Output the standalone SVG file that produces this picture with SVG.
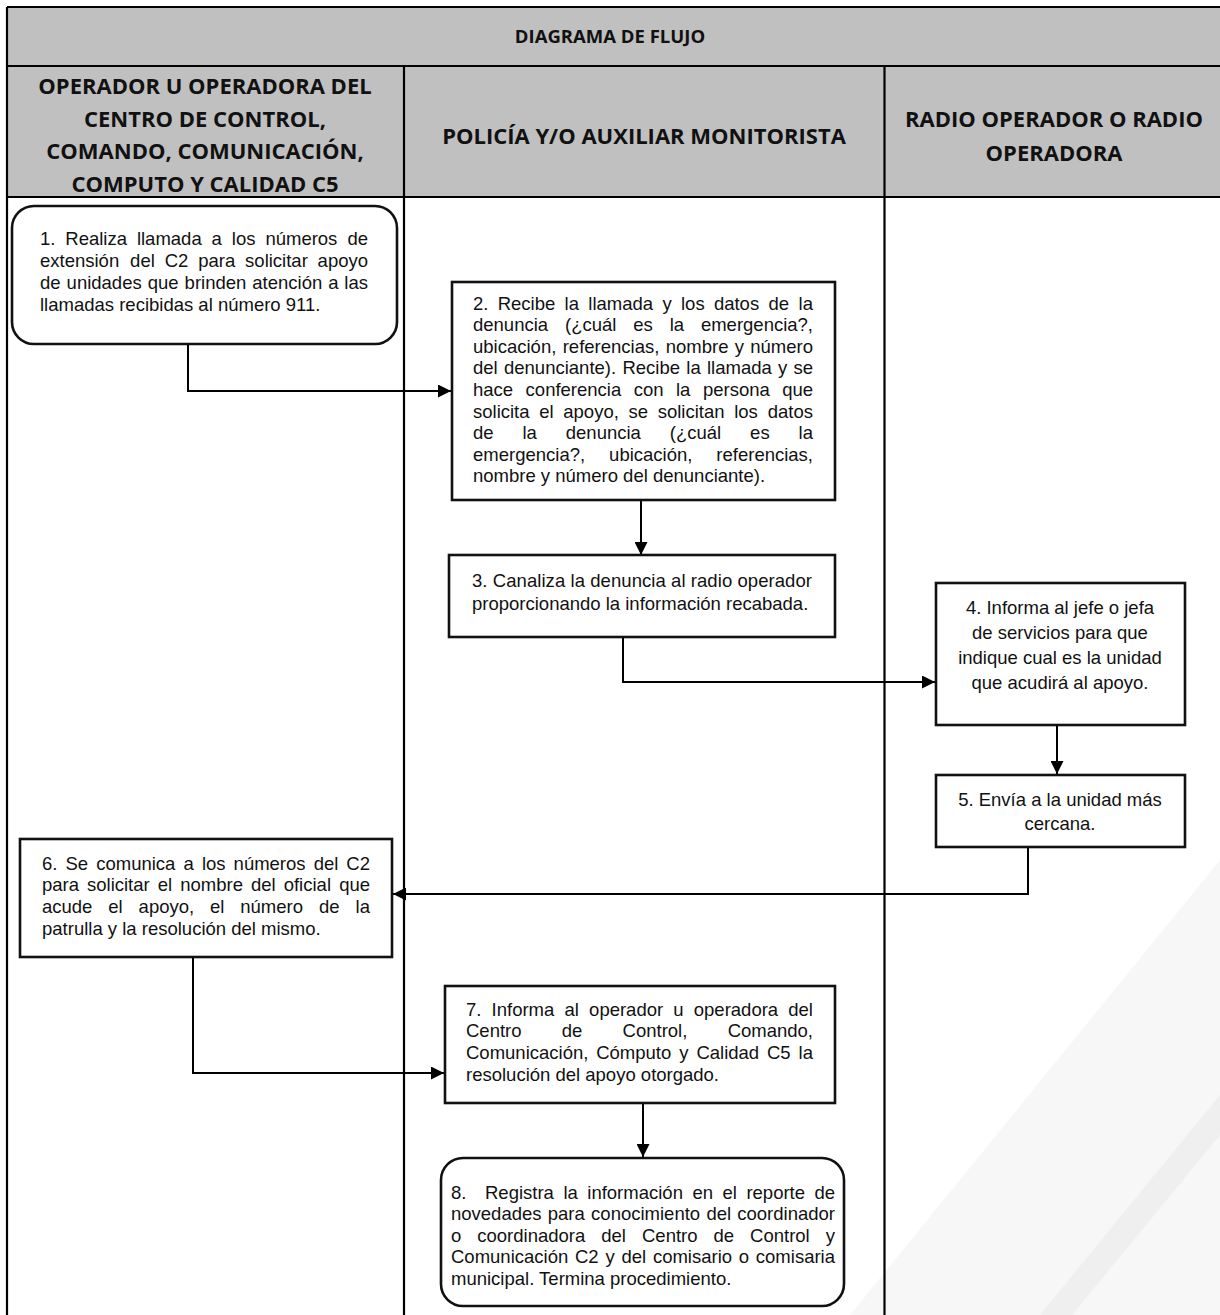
<svg xmlns="http://www.w3.org/2000/svg" width="1220" height="1315" viewBox="0 0 1220 1315">
<defs>
<style>
.t{font-family:"Liberation Sans",Arial,sans-serif;font-size:18.5px;fill:#111}
.c{text-anchor:middle}
.e{text-anchor:end}
.h{font-family:"Open Sans","Liberation Sans",sans-serif;font-weight:700;font-size:22px;text-anchor:middle;fill:#111}
.box{fill:#fff;stroke:#111;stroke-width:2.6}
.conn{fill:none;stroke:#000;stroke-width:2}
.grid{stroke:#000;stroke-width:2.2;fill:none}
</style>
<marker id="arr" viewBox="0 0 10 10" refX="10" refY="5" markerWidth="14" markerHeight="13" markerUnits="userSpaceOnUse" orient="auto">
<path d="M0,0 L10,5 L0,10 z" fill="#000"/>
</marker>
</defs>
<rect width="1220" height="1315" fill="#fff"/>
<g id="watermark">
<polygon points="1220,860 1220,1315 850,1315" fill="#f7f7f8"/>
<polygon points="1220,1095 1220,1135 1072,1315 1040,1315" fill="#efefef"/>
</g>
<g id="table">
<rect x="7" y="7" width="1220" height="190" fill="#c0c0c0"/>
<path class="grid" d="M7,7 H1220 M7,66 H1220 M7,197 H1220 M7,7 V1315 M404,66 V1315 M884.5,66 V1315"/>
<text class="h" x="610" y="43" style="font-size:18.5px">DIAGRAMA DE FLUJO</text>
<text class="h" x="205" y="94">OPERADOR U OPERADORA DEL</text>
<text class="h" x="205" y="126.5">CENTRO DE CONTROL,</text>
<text class="h" x="205" y="159">COMANDO, COMUNICACIÓN,</text>
<text class="h" x="205" y="191.5">COMPUTO Y CALIDAD C5</text>
<text class="h" x="644" y="144">POLICÍA Y/O AUXILIAR MONITORISTA</text>
<text class="h" x="1054" y="127">RADIO OPERADOR O RADIO</text>
<text class="h" x="1054" y="161">OPERADORA</text>
</g>
<g id="connectors">
<path class="conn" d="M188,344 V391 H451" marker-end="url(#arr)"/>
<path class="conn" d="M641,500 V555" marker-end="url(#arr)"/>
<path class="conn" d="M623,637 V682 H935" marker-end="url(#arr)"/>
<path class="conn" d="M1057,725 V774" marker-end="url(#arr)"/>
<path class="conn" d="M1028,847 V894 H393" marker-end="url(#arr)"/>
<path class="conn" d="M193,957 V1073 H444" marker-end="url(#arr)"/>
<path class="conn" d="M643,1103 V1157" marker-end="url(#arr)"/>
</g>
<g id="n1">
<rect class="box" x="12" y="206" width="385" height="138" rx="22"/>
<text class="t" y="245"><tspan x="40">1.</tspan><tspan x="65.3">Realiza</tspan><tspan x="136.9">llamada</tspan><tspan x="211.6">a</tspan><tspan x="231.8">los</tspan><tspan x="265.4">números</tspan></text>
<text class="t e" x="368" y="245">de</text>
<text class="t" y="267"><tspan x="40">extensión</tspan><tspan x="130.1">del</tspan><tspan x="164.7">C2</tspan><tspan x="198.2">para</tspan><tspan x="245.1">solicitar</tspan></text>
<text class="t e" x="368" y="267">apoyo</text>
<text class="t" y="289"><tspan x="40">de</tspan><tspan x="66.6">unidades</tspan><tspan x="147.7">que</tspan><tspan x="184.6">brinden</tspan><tspan x="252.3">atención</tspan><tspan x="328.2">a</tspan></text>
<text class="t e" x="368" y="289">las</text>
<text class="t" x="40" y="311">llamadas recibidas al número 911.</text>
</g>
<g id="n2">
<rect class="box" x="452" y="282" width="383" height="218"/>
<text class="t" y="309.5"><tspan x="473">2.</tspan><tspan x="497.7">Recibe</tspan><tspan x="564.6">la</tspan><tspan x="588.3">llamada</tspan><tspan x="662.4">y</tspan><tspan x="681">los</tspan><tspan x="713.9">datos</tspan><tspan x="768.5">de</tspan></text>
<text class="t e" x="813" y="309.5">la</text>
<text class="t" y="331.1"><tspan x="473">denuncia</tspan><tspan x="565">(¿cuál</tspan><tspan x="633.3">es</tspan><tspan x="669.7">la</tspan></text>
<text class="t e" x="813" y="331.1">emergencia?,</text>
<text class="t" y="352.7"><tspan x="473">ubicación,</tspan><tspan x="562.7">referencias,</tspan><tspan x="665.7">nombre</tspan><tspan x="734.7">y</tspan></text>
<text class="t e" x="813" y="352.7">número</text>
<text class="t" y="374.3"><tspan x="473">del</tspan><tspan x="504">denunciante).</tspan><tspan x="622.4">Recibe</tspan><tspan x="686.3">la</tspan><tspan x="707">llamada</tspan><tspan x="778.1">y</tspan></text>
<text class="t e" x="813" y="374.3">se</text>
<text class="t" y="395.9"><tspan x="473">hace</tspan><tspan x="525.6">conferencia</tspan><tspan x="633.7">con</tspan><tspan x="676">la</tspan><tspan x="702.9">persona</tspan></text>
<text class="t e" x="813" y="395.9">que</text>
<text class="t" y="417.5"><tspan x="473">solicita</tspan><tspan x="539.2">el</tspan><tspan x="563.3">apoyo,</tspan><tspan x="628.5">se</tspan><tspan x="657.7">solicitan</tspan><tspan x="734.2">los</tspan></text>
<text class="t e" x="813" y="417.5">datos</text>
<text class="t" y="439.1"><tspan x="473">de</tspan><tspan x="522.5">la</tspan><tspan x="565.8">denuncia</tspan><tspan x="669.8">(¿cuál</tspan><tspan x="750.1">es</tspan></text>
<text class="t e" x="813" y="439.1">la</text>
<text class="t" y="460.7"><tspan x="473">emergencia?,</tspan><tspan x="609.1">ubicación,</tspan></text>
<text class="t e" x="813" y="460.7">referencias,</text>
<text class="t" x="473" y="482.3">nombre y número del denunciante).</text>
</g>
<g id="n3">
<rect class="box" x="449" y="555" width="386" height="82"/>
<text class="t" x="472" y="586.5" textLength="340" lengthAdjust="spacing">3. Canaliza la denuncia al radio operador</text>
<text class="t" x="472" y="609.5">proporcionando la información recabada.</text>
</g>
<g id="n4">
<rect class="box" x="936" y="583" width="249" height="142"/>
<text class="t c" x="1060" y="613.5">4. Informa al jefe o jefa</text>
<text class="t c" x="1060" y="638.5">de servicios para que</text>
<text class="t c" x="1060" y="663.5">indique cual es la unidad</text>
<text class="t c" x="1060" y="688.5">que acudirá al apoyo.</text>
</g>
<g id="n5">
<rect class="box" x="936" y="775" width="249" height="72"/>
<text class="t c" x="1060" y="805.5">5. Envía a la unidad más</text>
<text class="t c" x="1060" y="829.5">cercana.</text>
</g>
<g id="n6">
<rect class="box" x="20" y="839" width="372" height="118"/>
<text class="t" y="869.5"><tspan x="42">6.</tspan><tspan x="65.5">Se</tspan><tspan x="96.2">comunica</tspan><tspan x="183.5">a</tspan><tspan x="201.9">los</tspan><tspan x="233.6">números</tspan><tspan x="313.7">del</tspan></text>
<text class="t e" x="370" y="869.5">C2</text>
<text class="t" y="891.2"><tspan x="42">para</tspan><tspan x="87">solicitar</tspan><tspan x="157.8">el</tspan><tspan x="180.2">nombre</tspan><tspan x="251">del</tspan><tspan x="283.7">oficial</tspan></text>
<text class="t e" x="370" y="891.2">que</text>
<text class="t" y="912.9"><tspan x="42">acude</tspan><tspan x="108.3">el</tspan><tspan x="138.6">apoyo,</tspan><tspan x="210">el</tspan><tspan x="240.3">número</tspan><tspan x="318.9">de</tspan></text>
<text class="t e" x="370" y="912.9">la</text>
<text class="t" x="42" y="934.6">patrulla y la resolución del mismo.</text>
</g>
<g id="n7">
<rect class="box" x="445" y="986" width="390" height="117"/>
<text class="t" y="1015.5"><tspan x="466">7.</tspan><tspan x="491.6">Informa</tspan><tspan x="564.5">al</tspan><tspan x="589.1">operador</tspan><tspan x="673.3">u</tspan><tspan x="693.8">operadora</tspan></text>
<text class="t e" x="813" y="1015.5">del</text>
<text class="t" y="1037.2"><tspan x="466">Centro</tspan><tspan x="561.8">de</tspan><tspan x="622.6">Control,</tspan></text>
<text class="t e" x="813" y="1037.2">Comando,</text>
<text class="t" y="1058.9"><tspan x="466">Comunicación,</tspan><tspan x="596.2">Cómputo</tspan><tspan x="679.2">y</tspan><tspan x="696.4">Calidad</tspan><tspan x="767">C5</tspan></text>
<text class="t e" x="813" y="1058.9">la</text>
<text class="t" x="466" y="1080.6">resolución del apoyo otorgado.</text>
</g>
<g id="n8">
<rect class="box" x="441" y="1158" width="403" height="148" rx="22"/>
<text class="t" y="1198.5"><tspan x="451">8.</tspan><tspan x="485">Registra</tspan><tspan x="563.4">la</tspan><tspan x="587.3">información</tspan><tspan x="692.4">en</tspan><tspan x="722.5">el</tspan><tspan x="746.4">reporte</tspan></text>
<text class="t e" x="835" y="1198.5">de</text>
<text class="t" y="1220"><tspan x="451">novedades</tspan><tspan x="547.8">para</tspan><tspan x="591.1">conocimiento</tspan><tspan x="706.4">del</tspan></text>
<text class="t e" x="835" y="1220">coordinador</text>
<text class="t" y="1241.5"><tspan x="451">o</tspan><tspan x="477.3">coordinadora</tspan><tspan x="601.3">del</tspan><tspan x="642">Centro</tspan><tspan x="713.5">de</tspan><tspan x="750.1">Control</tspan></text>
<text class="t e" x="835" y="1241.5">y</text>
<text class="t" y="1263"><tspan x="451">Comunicación</tspan><tspan x="575">C2</tspan><tspan x="605.4">y</tspan><tspan x="621.4">del</tspan><tspan x="652.9">comisario</tspan><tspan x="738.8">o</tspan></text>
<text class="t e" x="835" y="1263">comisaria</text>
<text class="t" x="451" y="1284.5">municipal. Termina procedimiento.</text>
</g>
</svg>
